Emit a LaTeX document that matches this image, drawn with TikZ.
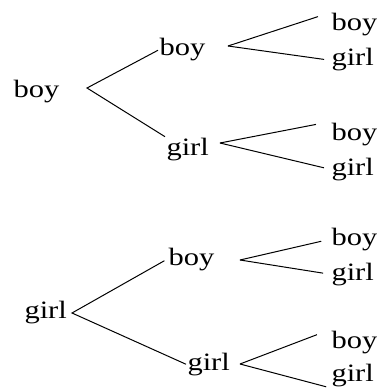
\documentclass[tikz,border=0pt]{standalone}
\usepackage{fontspec}
\usepackage{graphicx}
\setmainfont{Liberation Serif}
\newcommand{\wide}[1]{\scalebox{1.22}[1]{#1}}

\begin{document}
\begin{tikzpicture}[x=1pt,y=-1pt,line width=1pt, every node/.style={anchor=base west,inner sep=1pt,text height=16.8pt,text depth=5.3pt,font=\fontsize{25}{30}\selectfont}]
\useasboundingbox (0,0) rectangle (376,390);

\node (b) at (12,98) {\wide{boy}};
\node (b-b) at (158,56) {\wide{boy}};
\node (b-g) at (165,155) {\wide{girl}};
\node (b-b-b) at (330,31) {\wide{boy}};
\node (b-b-g) at (330,66) {\wide{girl}};
\node (b-g-b) at (330,140) {\wide{boy}};
\node (b-g-g) at (330,175) {\wide{girl}};

\node (g) at (23,318) {\wide{girl}};
\node (g-b) at (167,265) {\wide{boy}};
\node (g-g) at (186,370) {\wide{girl}};
\node (g-b-b) at (330,245) {\wide{boy}};
\node (g-b-g) at (330,280) {\wide{girl}};
\node (g-g-b) at (330,348) {\wide{boy}};
\node (g-g-g) at (330,381) {\wide{girl}};

\coordinate (fb) at (87,88);
\coordinate (fbb) at (228,46);
\coordinate (fbg) at (220,143);
\coordinate (fg) at (72,313);
\coordinate (fgb) at (240,260);
\coordinate (fgg) at (240,364);

\draw (b-b.west)--(fb)--(b-g.north west);
\draw[shorten <=12.6pt] (b-b-b.north west)--(fbb);
\draw[shorten >=6pt] (fbb)--(b-b-g.west);
\draw[shorten <=14.3pt] (b-g-b.north west)--(fbg);
\draw[shorten >=6.2pt] (fbg)--(b-g-g.west);

\draw[shorten <=3pt] (g-b.west)--(fg)--(g-g.west);
\draw[shorten <=9pt] (g-b-b.west)--(fgb);
\draw[shorten >=7pt] (fgb)--(g-b-g.west);
\draw[shorten <=14pt] (g-g-b.north west)--(fgg);
\draw[shorten >=4pt] (fgg)--(g-g-g.south west);
\end{tikzpicture}
\end{document}
